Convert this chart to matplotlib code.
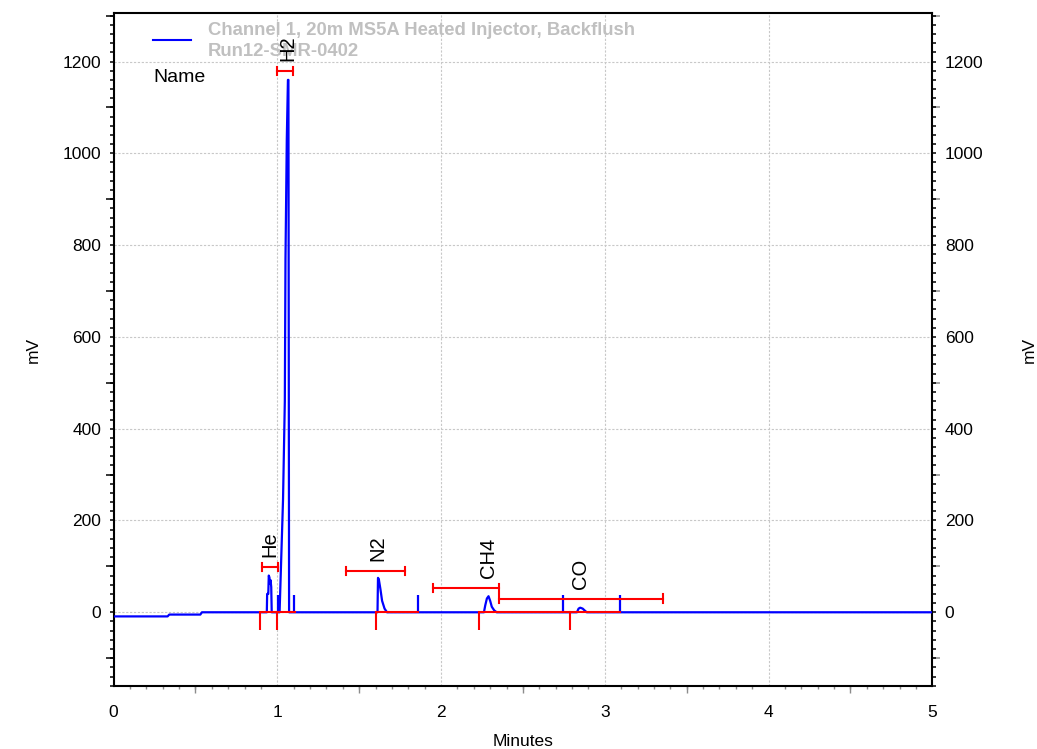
import matplotlib
matplotlib.use("Agg")
import matplotlib.pyplot as plt
from matplotlib.ticker import FixedLocator, MultipleLocator

plt.rcParams['font.family'] = ['Liberation Sans', 'DejaVu Sans']

# Detector trace (minutes, mV)
time_min = [0.0, 0.330, 0.340, 0.530, 0.540, 0.936, 0.938, 0.945, 0.948, 0.952,
            0.956, 0.959, 0.963, 0.966, 1.014, 1.035, 1.046, 1.050, 1.058, 1.065,
            1.068, 1.072, 1.612, 1.615, 1.620, 1.630, 1.640, 1.655, 1.670, 2.262,
            2.270, 2.280, 2.290, 2.300, 2.310, 2.325, 2.340, 2.830, 2.840, 2.850,
            2.865, 2.880, 2.890, 5.0]
signal_mv = [-9, -9, -5, -5, 0, 0, 40, 40, 80, 76,
             62, 70, 55, 0, 0, 245, 460, 770, 1030, 1160,
             1160, 0, 0, 75, 72, 50, 25, 8, 0, 0,
             15, 30, 35, 25, 12, 4, 0, 0, 8, 10,
             8, 3, 0, 0]

# Integration event markers on the trace
event_times = [1.003, 1.100, 1.858, 2.746, 3.090]
event_height = 38

# Identified peaks
peak_names = ['He', 'H2', 'N2', 'CH4', 'CO']
peak_apex = [0.953, 1.066, 1.615, 2.290, 2.850]
peak_start = [0.897, 1.000, 1.603, 2.230, 2.790]
peak_end = [1.000, 1.110, 1.858, 2.790, 3.090]
window_start = [0.904, 1.000, 1.420, 1.948, 2.352]
window_end = [1.006, 1.095, 1.777, 2.352, 3.354]
window_level = [99, 1180, 90, 53, 30]
delimiter_depth = -38

x_ticks = [0, 1, 2, 3, 4, 5]
y_ticks = [0, 200, 400, 600, 800, 1000, 1200]

blue = '#0000ff'
red = '#ff0000'
grey_tick = '#8c8c8c'

fig = plt.figure(figsize=(10.37, 7.49), dpi=100)
ax = fig.add_axes([0.1095, 0.0845, 0.7895, 0.8977])
ax.set_xlim(0, 5)
ax.set_ylim(-160, 1305)

# grid
ax.set_xticks(x_ticks)
ax.set_yticks(y_ticks)
ax.grid(True, color='#c8c8c8', linestyle=(0, (2, 1.5)), linewidth=0.8)
ax.set_axisbelow(True)

# trace
ax.plot(time_min, signal_mv, color=blue, linewidth=1.6, zorder=3)
ax.vlines(event_times, 0, event_height, color=blue, linewidth=1.6, zorder=3)

# baselines and peak delimiters
for s, e in zip(peak_start, peak_end):
    ax.plot([s, e], [0, 0], color=red, linewidth=1.5, zorder=4)
ax.vlines(peak_start, delimiter_depth, 0, color=red, linewidth=1.5, zorder=4)

# retention windows
for s, e, lv in zip(window_start, window_end, window_level):
    ax.plot([s, e], [lv, lv], color=red, linewidth=1.5, zorder=4)
    ax.plot([s, s], [lv - 9, lv + 9], color=red, linewidth=1.5, zorder=4)
    ax.plot([e, e], [lv - 9, lv + 9], color=red, linewidth=1.5, zorder=4)

# peak names
for name, apex, lv in zip(peak_names, peak_apex, window_level):
    ax.annotate(name, (apex, lv), xytext=(0, 7), textcoords='offset points',
                rotation=90, ha='center', va='bottom', fontsize=14.5,
                color='black', zorder=5)

# spines
for sp in ax.spines.values():
    sp.set_color('black')
    sp.set_linewidth(1.5)

# y ticks: labels at 200s, minor every 20, both sides
ax.yaxis.set_minor_locator(MultipleLocator(20))
ax.tick_params(axis='y', which='both', direction='out', left=True, right=True,
               labelleft=True, labelright=True, labelsize=12.5)
ax.tick_params(axis='y', which='major', length=3, width=1.1, pad=6)
ax.tick_params(axis='y', which='minor', length=3, width=1.1)
for t in ax.yaxis.get_major_ticks() + ax.yaxis.get_minor_ticks():
    t.tick2line.set_color(grey_tick)
    t.tick1line.set_color('black')

# x ticks
ax.xaxis.set_minor_locator(MultipleLocator(0.1))
ax.tick_params(axis='x', which='major', length=0, pad=14, labelsize=12.5)
ax.tick_params(axis='x', which='minor', direction='out', length=2.5,
               width=1.0, color=grey_tick)

# longer ticks at odd hundreds and half minutes
odd_hundreds = list(range(-100, 1301, 200))
for loc in ('left', 'right'):
    sec = ax.secondary_yaxis(loc)
    sec.set_yticks(odd_hundreds)
    sec.yaxis.set_minor_locator(FixedLocator([]))
    sec.tick_params(axis='y', which='major', direction='out', length=5.5, width=1.1,
                    color='black' if loc == 'left' else grey_tick,
                    labelleft=False, labelright=False)
    for sp in sec.spines.values():
        sp.set_visible(False)

secx = ax.secondary_xaxis('bottom')
secx.set_xticks([0.5, 1.5, 2.5, 3.5, 4.5])
secx.xaxis.set_minor_locator(FixedLocator([]))
secx.tick_params(axis='x', which='major', direction='out', length=5, width=1.0,
                 color=grey_tick, labelbottom=False)
for sp in secx.spines.values():
    sp.set_visible(False)

ax.set_xlabel('Minutes', fontsize=12.5, labelpad=10)
fig.text(0.032, 0.533, 'mV', rotation=90, ha='center', va='center', fontsize=12.5)
fig.text(0.993, 0.533, 'mV', rotation=90, ha='center', va='center', fontsize=12.5)

# legend block
ax.plot([0.048, 0.094], [0.961, 0.961], transform=ax.transAxes, color=blue,
        linewidth=1.5, clip_on=False)
ax.text(0.115, 0.974, 'Channel 1, 20m MS5A Heated Injector, Backflush',
        transform=ax.transAxes, fontsize=13.3, fontweight='bold', color='#c0c0c0',
        ha='left', va='center', zorder=2)
ax.text(0.115, 0.943, 'Run12-SMR-0402', transform=ax.transAxes, fontsize=13.3,
        fontweight='bold', color='#c0c0c0', ha='left', va='center', zorder=2)
ax.text(0.049, 0.904, 'Name', transform=ax.transAxes, fontsize=14,
        color='black', ha='left', va='center')

fig.savefig('out.png', dpi=100)
